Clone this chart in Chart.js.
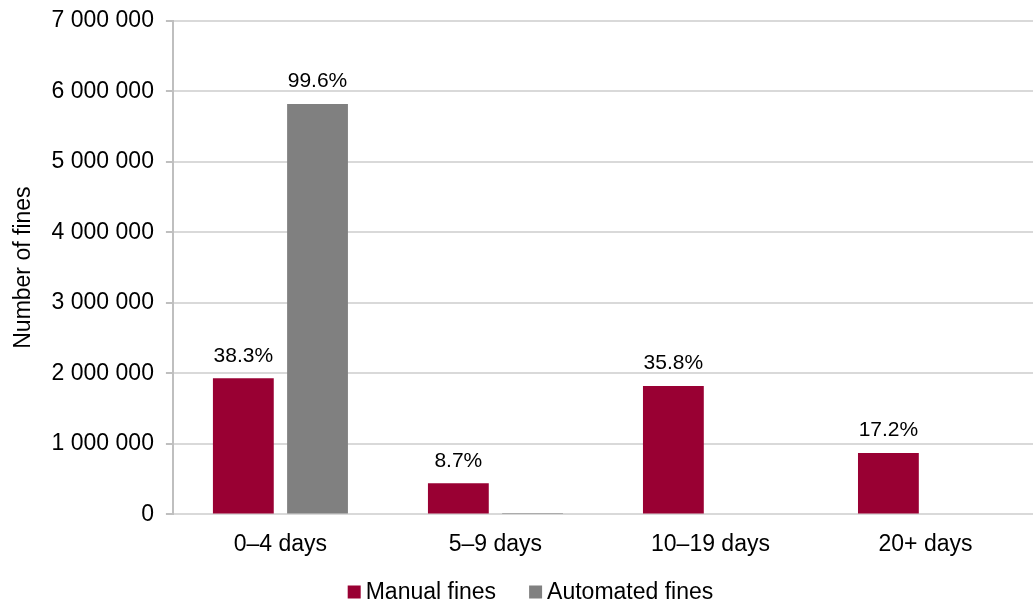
<!DOCTYPE html>
<html>
<head>
<meta charset="utf-8">
<script src="https://cdn.jsdelivr.net/npm/chart.js@4/dist/chart.umd.min.js"></script>
<style>
  html, body { margin: 0; padding: 0; background: #fff; overflow: hidden; }
  #wrap { width: 1033px; height: 609px; margin-top: -5px; }
</style>
</head>
<body>
<div id="wrap"><canvas id="myChart"></canvas></div>
<script>
const categories = ['0–4 days', '5–9 days', '10–19 days', '20+ days'];
const manualFines = [1930000, 440000, 1820000, 870000];
const automatedFines = [5820000, 20000, 0, 0];
const manualLabels = ['38.3%', '8.7%', '35.8%', '17.2%'];
const automatedLabels = ['99.6%', '', '', ''];
const yTicks = [0, 1000000, 2000000, 3000000, 4000000, 5000000, 6000000, 7000000];

const fontFamily = '"Liberation Sans", Arial, sans-serif';
const fontSize = 23;

// draws the percent labels above the bars
const barLabels = {
    id: 'barLabels',
    afterDatasetsDraw(chart) {
        const c = chart.ctx;
        c.save();
        c.font = '21px ' + fontFamily;
        c.fillStyle = '#000';
        c.textAlign = 'center';
        c.textBaseline = 'bottom';
        const texts = [manualLabels, automatedLabels];
        chart.data.datasets.forEach((ds, i) => {
            chart.getDatasetMeta(i).data.forEach((bar, j) => {
                const t = texts[i][j];
                if (t) c.fillText(t, bar.x, bar.y - 12);
            });
        });
        c.restore();
    }
};

// legend at the bottom, boxes close to the text like the original
const bottomLegend = {
    id: 'bottomLegend',
    afterDraw(chart) {
        const c = chart.ctx;
        const box = 13, gapText = 5, gapItem = 33;
        const y = chart.height - 12;
        c.save();
        c.font = fontSize + 'px ' + fontFamily;
        c.textBaseline = 'middle';
        const items = chart.data.datasets.map(ds => ({
            label: ds.label, color: ds.backgroundColor, w: c.measureText(ds.label).width
        }));
        let total = 0;
        items.forEach((it, i) => { total += box + gapText + it.w + (i ? gapItem : 0); });
        let x = chart.width / 2 + 14 - total / 2;
        items.forEach(it => {
            c.fillStyle = it.color;
            c.fillRect(x, y - box / 2, box, box);
            c.fillStyle = '#000';
            c.fillText(it.label, x + box + gapText, y + 1);
            x += box + gapText + it.w + gapItem;
        });
        c.restore();
    }
};

const ctx = document.getElementById('myChart').getContext('2d');
const myChart = new Chart(ctx, {
    type: 'bar',
    data: {
        labels: categories,
        datasets: [{
            label: 'Manual fines',
            data: manualFines,
            backgroundColor: '#990033',
            categoryPercentage: 0.69,
            barPercentage: 0.82
        }, {
            label: 'Automated fines',
            data: automatedFines,
            backgroundColor: '#808080',
            categoryPercentage: 0.69,
            barPercentage: 0.82
        }]
    },
    options: {
        responsive: true,
        maintainAspectRatio: false,
        animation: false,
        layout: { padding: { top: 0, right: 0, left: 6, bottom: 38 } },
        plugins: {
            legend: { display: false },
            tooltip: { enabled: false }
        },
        scales: {
            x: {
                grid: { display: false },
                border: { color: '#d9d9d9', width: 2 },
                ticks: { color: '#000', padding: 8, font: { size: fontSize, family: fontFamily } }
            },
            y: {
                min: 0,
                max: 7000000,
                afterBuildTicks: (axis) => { axis.ticks = yTicks.map(v => ({ value: v })); },
                grid: { color: '#d9d9d9', lineWidth: 2, tickLength: 7, tickColor: '#bfbfbf' },
                border: { color: '#bfbfbf', width: 2 },
                ticks: {
                    color: '#000',
                    padding: 12,
                    font: { size: fontSize, family: fontFamily },
                    callback: (v) => v.toString().replace(/\B(?=(\d{3})+(?!\d))/g, ' ')
                },
                title: {
                    display: true,
                    text: 'Number of fines',
                    color: '#000',
                    padding: { bottom: 2 },
                    font: { size: fontSize, family: fontFamily }
                }
            }
        }
    },
    plugins: [barLabels, bottomLegend]
});
</script>
</body>
</html>
